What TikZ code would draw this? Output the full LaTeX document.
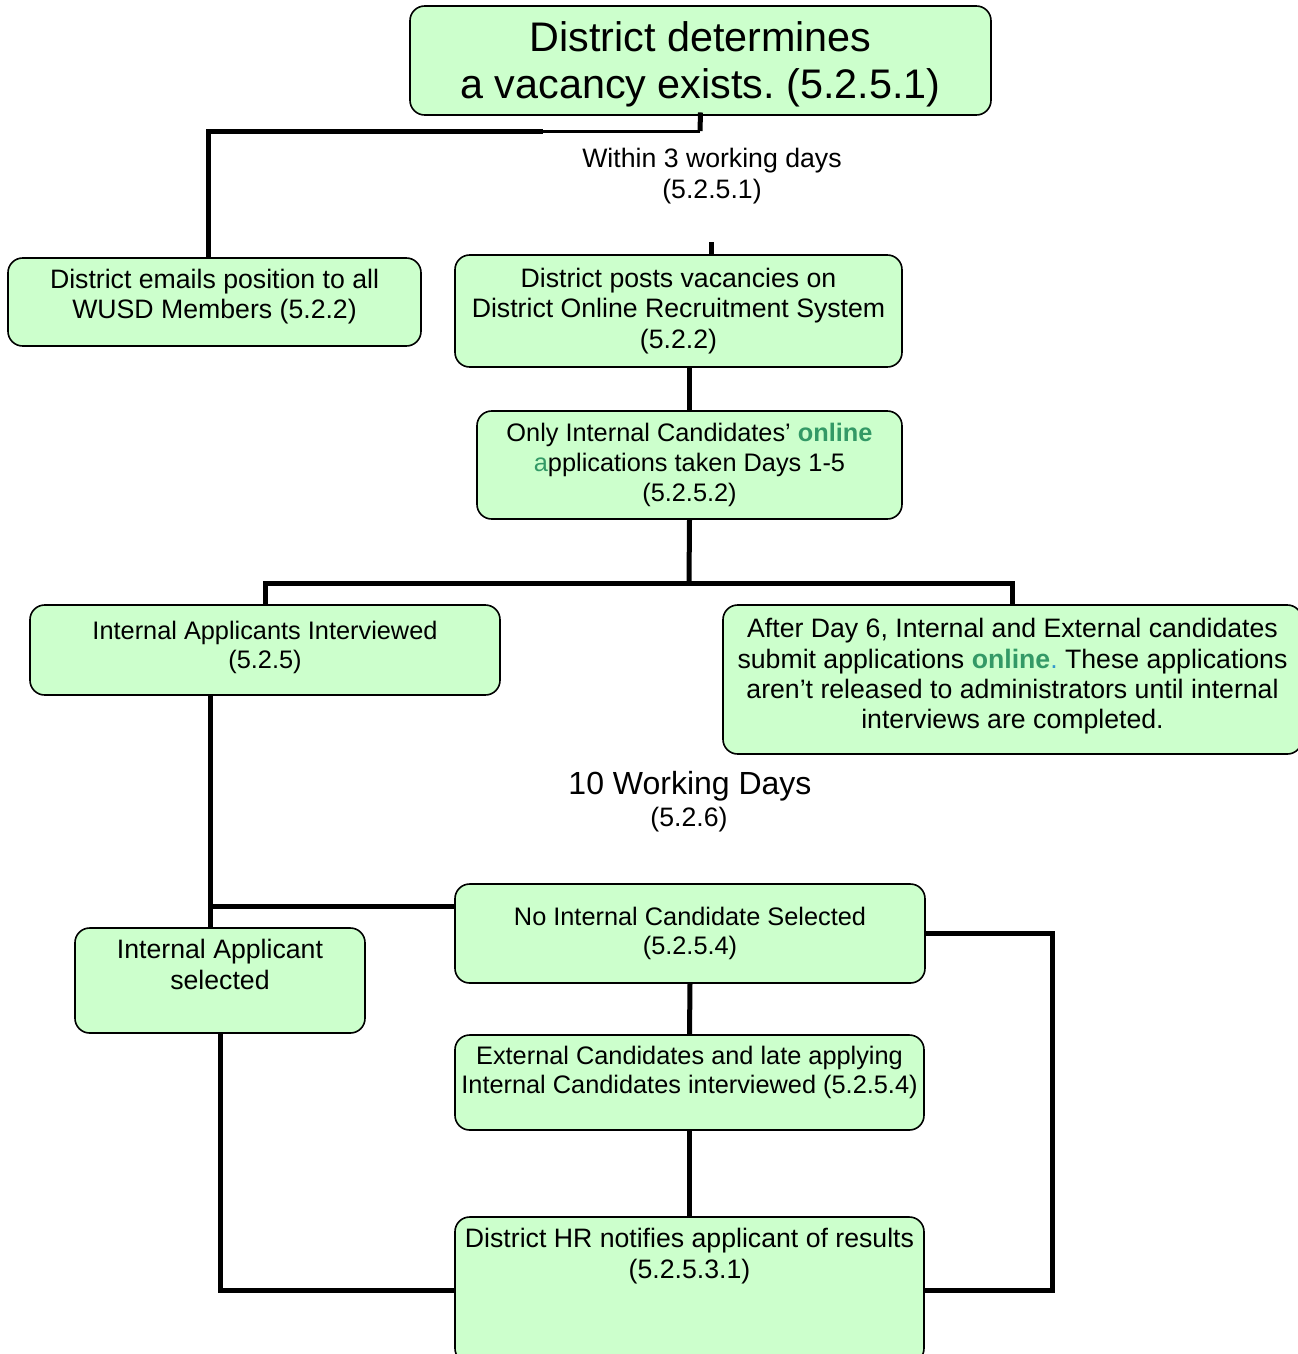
\documentclass[tikz,border=0pt]{standalone}
\usepackage{fontspec}
\setmainfont{Liberation Sans}
\frenchspacing

\definecolor{boxgreen}{RGB}{204,255,204}
\definecolor{onlinegreen}{RGB}{51,153,102}
\definecolor{dotblue}{RGB}{51,153,204}

\tikzset{every picture/.style={line width=0.75pt}}
\tikzset{
	stepbox/.style={draw, fill=boxgreen, rounded corners=11pt, line width=1.2pt, align=center, inner sep=0pt, font=\fontsize{20}{22.75}\selectfont},
	smallbox/.style={stepbox, font=\fontsize{19}{22.25}\selectfont},
	notetext/.style={align=center, inner sep=0pt, font=\fontsize{20}{22.75}\selectfont},
	link/.style={line width=3.75pt, line join=miter},
	thinlink/.style={line width=2.25pt},
}

\begin{document}
\begin{tikzpicture}[x=0.75pt,y=0.75pt,yscale=-1,xscale=1]
	\useasboundingbox (0,0) rectangle (1298,1354);
	
	% Boxes
	\node[stepbox, minimum width=435.75pt, minimum height=81.75pt, text depth=1pt, font=\fontsize{31}{35}\selectfont] (top) at (700.5,60.5) {District determines\\a vacancy exists. (5.2.5.1)};
	\node[stepbox, minimum width=309.75pt, minimum height=66pt, text depth=12pt] (emails) at (214.5,302) {District emails position to all\\WUSD Members (5.2.2)};
	\node[stepbox, minimum width=335.25pt, minimum height=84pt] (posts) at (678.5,311) {District posts vacancies on\\District Online Recruitment System\\(5.2.2)};
	\node[smallbox, minimum width=318.75pt, minimum height=81pt] (onlyint) at (689.5,465) {Only Internal Candidates’ \textbf{\color{onlinegreen}online}\\{\color{onlinegreen}a}pplications taken Days 1-5\\(5.2.5.2)};
	\node[smallbox, minimum width=352.5pt, minimum height=67.5pt, text depth=8pt] (interv) at (265,650) {Internal Applicants Interviewed\\(5.2.5)};
	\node[stepbox, minimum width=434.25pt, minimum height=111.75pt, text depth=9pt] (after6) at (1012.5,679.5) {After Day 6, Internal and External candidates\\submit applications \textbf{\color{onlinegreen}online}{\color{dotblue}.} These applications\\aren’t released to administrators until internal\\interviews are completed.};
	\node[smallbox, minimum width=352.5pt, minimum height=74.25pt, text depth=4pt] (noint) at (690,933.5) {No Internal Candidate Selected\\(5.2.5.4)};
	\node[stepbox, minimum width=217.5pt, minimum height=78.75pt, text depth=24pt, font=\fontsize{20}{23.25}\selectfont] (intsel) at (220,980.5) {Internal Applicant\\selected};
	\node[smallbox, minimum width=351.75pt, minimum height=71.25pt, text depth=19pt] (external) at (689.5,1082.5) {External Candidates and late applying\\Internal Candidates interviewed (5.2.5.4)};
	\node[stepbox, minimum width=351.75pt, minimum height=109.5pt, text depth=55pt] (hr) at (689.5,1290) {District HR notifies applicant of results\\(5.2.5.3.1)};
	
	% Text Node
	\node[notetext] (within) at (712,176) {Within 3 working days\\(5.2.5.1)};
	% Text Node
	\node[notetext, font=\fontsize{24}{28}\selectfont] (tendays) at (690,786) {10 Working Days};
	% Text Node
	\node[notetext] (tendaysref) at (689,820) {(5.2.6)};
	
	% Connectors
	\coordinate (split) at (700,131);
	\coordinate (bend) at (543,131);
	\draw[link] ([yshift=-2.5]top.south) -- (split);
	\draw[thinlink] (split) -- (bend);
	\draw[link] (bend) -| (emails.north -| 208,0);
	\draw[link] ([xshift=24.4]posts.north) -- ++(0,-12);
	\draw[link] (onlyint.north |- posts.south) -- (onlyint.north);
	
	\coordinate (fork) at (689,583);
	\draw[link] (onlyint.south) -- (fork);
	\draw[link] (interv.north) |- (fork) -| (after6.north);
	
	\coordinate (drop) at (210,906);
	\draw[link] (interv.south -| drop) -- (intsel.north -| drop);
	\draw[link] (drop) -- (noint.west |- drop);
	\draw[link] (noint.south) -- (external.north);
	\draw[link] (external.south) -- (hr.north);
	\draw[link] (noint.east) -- ++(127,0) |- (hr.east);
	\draw[link] (intsel.south) |- (hr.west);
	
\end{tikzpicture}
\end{document}
